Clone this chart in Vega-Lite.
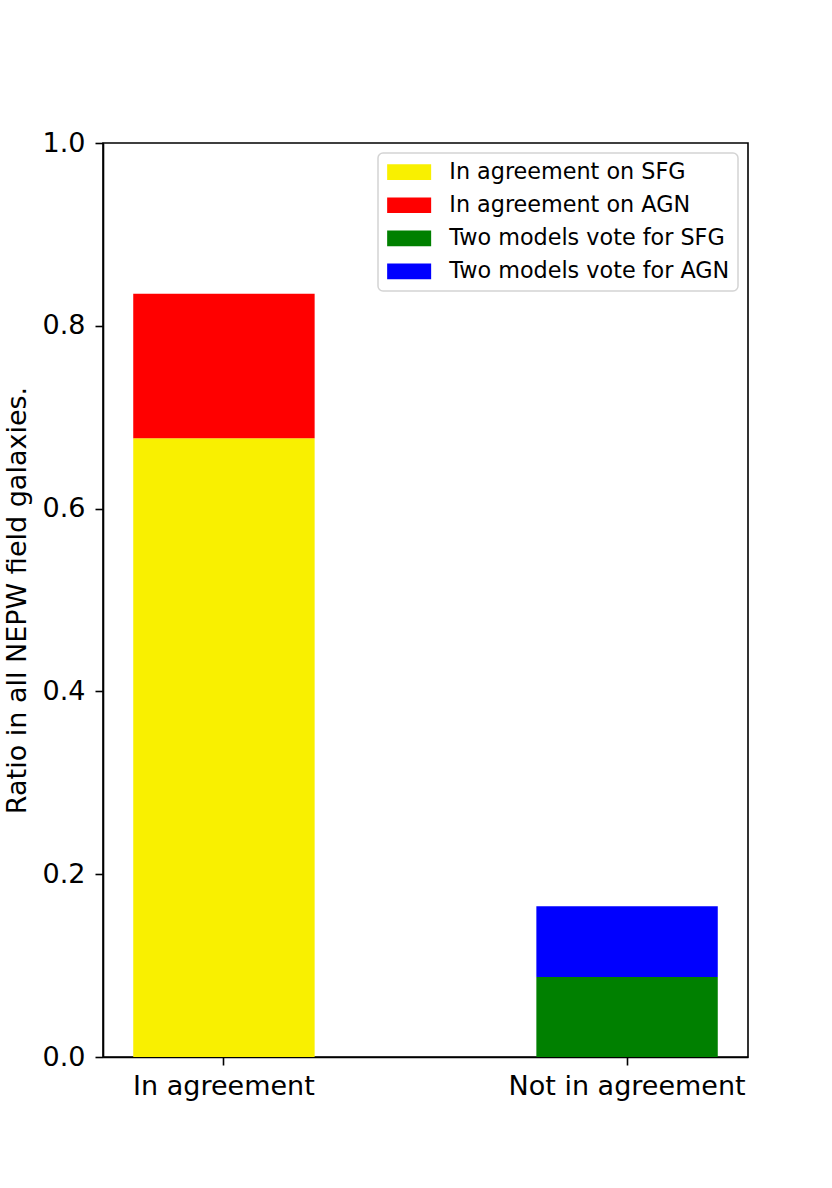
{
  "$schema": "https://vega.github.io/schema/vega-lite/v6.json",
  "width": 645,
  "height": 914,
  "autosize": {"type": "none"},
  "padding": {"left": 103, "top": 143, "right": 84, "bottom": 131},
  "background": "white",
  "config": {
    "font": "DejaVu Sans",
    "view": {"stroke": "black", "strokeWidth": 1.6},
    "axis": {
      "grid": false,
      "domainColor": "black",
      "domainWidth": 1.6,
      "tickColor": "black",
      "tickWidth": 1.6,
      "tickSize": 8,
      "labelColor": "black",
      "labelFont": "DejaVu Sans",
      "labelFontSize": 27,
      "labelLimit": 0,
      "titleColor": "black",
      "titleFont": "DejaVu Sans",
      "titleFontSize": 27,
      "titleFontWeight": "normal"
    },
    "legend": {
      "orient": "top-right",
      "offset": 10,
      "fillColor": "white",
      "strokeColor": "#d4d4d4",
      "strokeWidth": 1.5,
      "cornerRadius": 5,
      "padding": 8,
      "labelFont": "DejaVu Sans",
      "labelFontSize": 22.3,
      "labelColor": "black",
      "labelLimit": 0,
      "labelOffset": 29,
      "symbolType": "M-2,-0.714L2,-0.714L2,0.714L-2,0.714Z",
      "symbolSize": 484,
      "symbolOffset": 12,
      "symbolStrokeWidth": 0,
      "symbolOpacity": 1,
      "rowPadding": 10.1
    }
  },
  "data": {
    "values": [
      {"group": "In agreement", "category": "In agreement on SFG", "ratio": 0.677, "order": 1},
      {"group": "In agreement", "category": "In agreement on AGN", "ratio": 0.158, "order": 2},
      {"group": "Not in agreement", "category": "Two models vote for SFG", "ratio": 0.0875, "order": 3},
      {"group": "Not in agreement", "category": "Two models vote for AGN", "ratio": 0.0775, "order": 4}
    ]
  },
  "mark": {"type": "bar", "opacity": 1},
  "encoding": {
    "x": {
      "field": "group",
      "type": "nominal",
      "sort": ["In agreement", "Not in agreement"],
      "scale": {"paddingInner": 0.55, "paddingOuter": 0.075},
      "axis": {"title": null, "labelAngle": 0, "labelPadding": 8}
    },
    "y": {
      "field": "ratio",
      "type": "quantitative",
      "stack": "zero",
      "scale": {"domain": [0, 1], "nice": false},
      "axis": {
        "title": "Ratio in all NEPW field galaxies.",
        "values": [0, 0.2, 0.4, 0.6, 0.8, 1],
        "format": ".1f",
        "labelPadding": 10,
        "titlePadding": 11
      }
    },
    "color": {
      "field": "category",
      "type": "nominal",
      "scale": {
        "domain": ["In agreement on SFG", "In agreement on AGN", "Two models vote for SFG", "Two models vote for AGN"],
        "range": ["#f9f000", "#ff0000", "#008000", "#0000ff"]
      },
      "legend": {"title": null}
    },
    "order": {"field": "order", "type": "quantitative"}
  }
}
